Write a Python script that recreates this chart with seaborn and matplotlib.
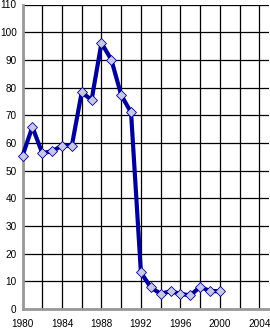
import matplotlib
matplotlib.use("Agg")
import matplotlib.pyplot as plt
import seaborn as sns
import pandas as pd

years = [1980, 1981, 1982, 1983, 1984, 1985, 1986, 1987, 1988, 1989, 1990,
         1991, 1992, 1993, 1994, 1995, 1996, 1997, 1998, 1999, 2000]
values = [55.3, 65.8, 56.3, 57.0, 59.0, 59.0, 78.3, 75.5, 96.1, 90.1, 77.3,
          71.0, 13.2, 7.8, 5.5, 6.4, 5.5, 4.9, 8.0, 6.5, 6.4]
x_ticks = list(range(1980, 2005, 2))
x_labels = [str(y) if y % 4 == 0 else "" for y in x_ticks]
y_ticks = list(range(0, 111, 10))

df = pd.DataFrame({"year": years, "value": values})

sns.set_style("white")
plt.rcParams["font.family"] = ["Liberation Sans", "DejaVu Sans"]

fig = plt.figure(figsize=(2.70, 3.28), dpi=100)
ax = fig.add_axes([22.5 / 270, 19 / 328, 246.7 / 270, 304.5 / 328])

sns.lineplot(data=df, x="year", y="value", ax=ax, color="#000099",
             linewidth=3.0, marker="D", markersize=4.8,
             markerfacecolor="#c8c8e4", markeredgecolor="#000099",
             markeredgewidth=0.6, zorder=5, clip_on=False)

ax.set_xlim(1980, 2005)
ax.set_ylim(0, 110)
ax.set_xticks(x_ticks)
ax.set_xticklabels(x_labels)
ax.set_yticks(y_ticks)
ax.set_yticklabels([str(v) for v in y_ticks])
ax.grid(True, color="black", linewidth=0.9, zorder=0)
ax.set_axisbelow(True)
ax.set_xlabel("")
ax.set_ylabel("")

for s in ["top", "right"]:
    ax.spines[s].set_visible(False)
for s in ["left", "bottom"]:
    ax.spines[s].set_color("#999999")
    ax.spines[s].set_linewidth(2)
    ax.spines[s].set_zorder(4)

ax.tick_params(axis="both", direction="out", length=3, width=2,
               color="#999999", labelsize=7.2, labelcolor="black")
ax.tick_params(axis="y", pad=1.2)
ax.tick_params(axis="x", pad=4)

fig.savefig("out.png", dpi=100)
